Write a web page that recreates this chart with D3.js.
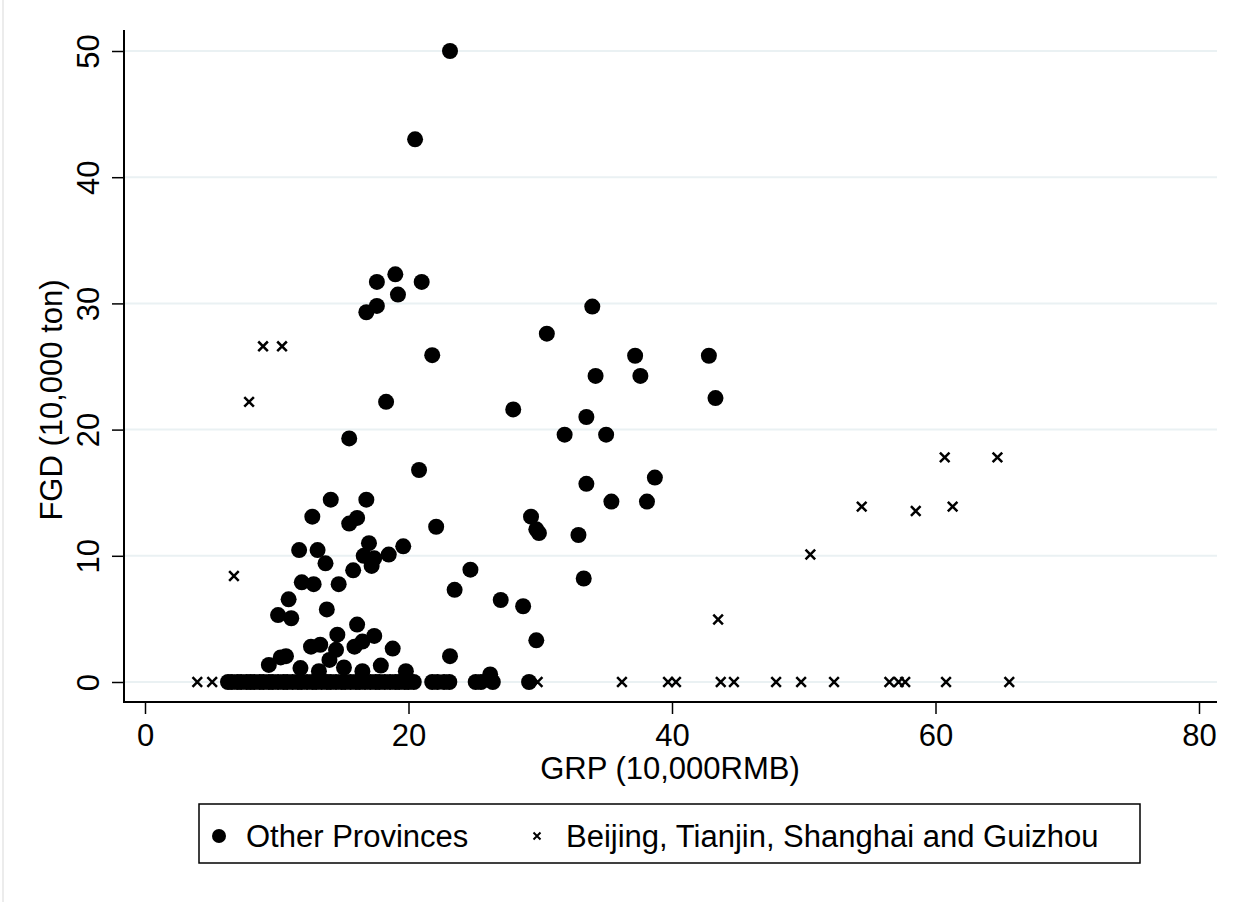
<!DOCTYPE html>
<html>
<head>
<meta charset="utf-8">
<script src="https://cdn.jsdelivr.net/npm/d3@7"></script>
<style>
  body { margin: 0; background: #fff; }
  svg { display: block; font-family: "Liberation Sans", Arial, Helvetica, sans-serif; }
</style>
</head>
<body>
<svg id="chart"></svg>
<script>
// Other Provinces (filled circles)
const otherX = [
  23.15, 20.5, 19.0, 17.6, 21.0, 19.2, 17.6, 16.8, 21.8, 18.3,
  15.5, 20.8, 14.1, 16.8, 12.7, 16.1, 15.5, 22.1, 11.7, 13.1,
  17.0, 19.6, 16.6, 17.4, 18.5, 17.2, 13.7, 15.8, 24.7, 11.9,
  12.8, 14.7, 10.9, 10.1, 11.1, 13.8, 16.1, 14.6, 17.4, 12.6,
  13.3, 10.7, 10.3, 14.5, 15.9, 16.5, 18.8, 14.0, 9.4, 11.8,
  13.2, 15.1, 16.5, 17.9, 19.8, 33.95, 30.5, 37.2, 42.8, 34.2,
  37.6, 43.3, 27.95, 33.5, 31.85, 35.0, 38.7, 33.5, 35.4, 38.1,
  29.3, 29.7, 29.9, 32.9, 33.3, 23.5, 27.0, 28.7, 29.7, 23.15,
  26.2,
  // zero row
  6.3, 6.6, 7.0, 7.3, 7.7, 8.0, 8.3, 8.7, 9.0, 9.4,
  9.7, 10.1, 10.5, 10.8, 11.2, 11.6, 11.9, 12.3, 12.7, 13.0,
  13.4, 13.8, 14.1, 14.5, 14.9, 15.2, 15.6, 16.0, 16.3, 16.7,
  17.1, 17.5, 17.8, 18.2, 18.6, 19.0, 19.3, 19.7, 20.0, 20.4,
  21.8, 22.2, 22.7, 23.1, 25.1, 25.5, 26.4, 29.15
];
const otherY = [
  50.0, 43.0, 32.3, 31.7, 31.7, 30.7, 29.8, 29.3, 25.9, 22.2,
  19.3, 16.8, 14.45, 14.45, 13.1, 13.0, 12.55, 12.3, 10.45, 10.45,
  11.0, 10.75, 10.0, 9.8, 10.1, 9.2, 9.4, 8.85, 8.9, 7.9,
  7.75, 7.75, 6.55, 5.3, 5.05, 5.75, 4.55, 3.75, 3.65, 2.8,
  2.95, 2.05, 1.95, 2.55, 2.8, 3.2, 2.65, 1.75, 1.35, 1.1,
  0.85, 1.15, 0.85, 1.3, 0.85, 29.75, 27.6, 25.85, 25.85, 24.25,
  24.25, 22.5, 21.6, 21.0, 19.6, 19.6, 16.2, 15.7, 14.3, 14.3,
  13.1, 12.1, 11.8, 11.65, 8.2, 7.3, 6.5, 6.0, 3.3, 2.05,
  0.6,
  0, 0, 0, 0, 0, 0, 0, 0, 0, 0,
  0, 0, 0, 0, 0, 0, 0, 0, 0, 0,
  0, 0, 0, 0, 0, 0, 0, 0, 0, 0,
  0, 0, 0, 0, 0, 0, 0, 0, 0, 0,
  0, 0, 0, 0, 0, 0, 0, 0
];

// Beijing, Tianjin, Shanghai and Guizhou (crosses)
const bjX = [
  3.97, 5.1, 8.96, 10.4, 7.9, 6.75, 29.8, 36.2, 39.7, 40.3,
  43.7, 44.7, 47.9, 49.8, 52.3, 56.5, 57.2, 57.7, 60.8, 65.6,
  43.5, 50.5, 54.4, 58.5, 61.3, 60.7, 64.7
];
const bjY = [
  0, 0, 26.6, 26.6, 22.2, 8.4, 0, 0, 0, 0,
  0, 0, 0, 0, 0, 0, 0, 0, 0, 0,
  4.95, 10.1, 13.9, 13.55, 13.9, 17.8, 17.8
];

const xTicks = [0, 20, 40, 60, 80];
const yTicks = [0, 10, 20, 30, 40, 50];
const legendLabels = ["Other Provinces", "Beijing, Tianjin, Shanghai and Guizhou"];

const width = 1247, height = 902;
const plot = { left: 124, right: 1217, top: 30, bottom: 702 };
const fontSize = 31;

const svg = d3.select("#chart")
    .attr("width", width)
    .attr("height", height);

svg.append("rect").attr("width", width).attr("height", height).attr("fill", "#fff");
// faint graph region edge on the left
svg.append("line")
    .attr("x1", 3).attr("x2", 3).attr("y1", 0).attr("y2", height)
    .attr("stroke", "#e6e6e6").attr("stroke-width", 1.5);

const x = d3.scaleLinear().domain([0, 80]).range([145, 1199]);
const y = d3.scaleLinear().domain([0, 50]).range([682, 51]);

// gridlines
svg.append("g")
    .selectAll("line")
    .data(yTicks)
    .enter()
    .append("line")
    .attr("x1", plot.left)
    .attr("x2", plot.right)
    .attr("y1", d => y(d))
    .attr("y2", d => y(d))
    .attr("stroke", "#eaf1f3")
    .attr("stroke-width", 2);

// axis lines
svg.append("line")
    .attr("x1", plot.left).attr("x2", plot.left)
    .attr("y1", plot.top).attr("y2", plot.bottom)
    .attr("stroke", "#000").attr("stroke-width", 2);
svg.append("line")
    .attr("x1", plot.left - 1).attr("x2", plot.right)
    .attr("y1", plot.bottom).attr("y2", plot.bottom)
    .attr("stroke", "#000").attr("stroke-width", 2);

// x axis
const xAxis = svg.append("g")
    .attr("transform", `translate(0,${plot.bottom})`)
    .call(d3.axisBottom(x).tickValues(xTicks).tickSize(12).tickPadding(10).tickFormat(d3.format("d")));
xAxis.select(".domain").remove();
xAxis.selectAll(".tick line").attr("stroke-width", 1.5);
xAxis.selectAll("text")
    .attr("fill", "#000")
    .style("font-size", fontSize + "px")
    .style("font-family", "'Liberation Sans', Arial, sans-serif");

// y axis
const yAxis = svg.append("g")
    .attr("transform", `translate(${plot.left},0)`)
    .call(d3.axisLeft(y).tickValues(yTicks).tickSize(12).tickFormat(d3.format("d")));
yAxis.select(".domain").remove();
yAxis.selectAll(".tick line").attr("stroke-width", 1.5);
yAxis.selectAll("text")
    .attr("x", 0)
    .attr("y", -25)
    .attr("dy", 0)
    .attr("transform", "rotate(-90)")
    .attr("text-anchor", "middle")
    .attr("fill", "#000")
    .style("font-size", fontSize + "px")
    .style("font-family", "'Liberation Sans', Arial, sans-serif");

// axis titles
svg.append("text")
    .attr("x", 670)
    .attr("y", 779)
    .attr("text-anchor", "middle")
    .style("font-size", fontSize + "px")
    .text("GRP (10,000RMB)");

svg.append("text")
    .attr("transform", "translate(62,400) rotate(-90)")
    .attr("text-anchor", "middle")
    .style("font-size", fontSize + "px")
    .text("FGD (10,000 ton)");

// markers
const otherData = otherX.map((v, i) => ({ x: v, y: otherY[i] }));
const bjData = bjX.map((v, i) => ({ x: v, y: bjY[i] }));

svg.append("g")
    .selectAll("circle")
    .data(otherData)
    .enter()
    .append("circle")
    .attr("cx", d => x(d.x))
    .attr("cy", d => y(d.y))
    .attr("r", 8)
    .attr("fill", "#000");

const crossPath = s => `M${-s},${-s}L${s},${s}M${-s},${s}L${s},${-s}`;

svg.append("g")
    .selectAll("path")
    .data(bjData)
    .enter()
    .append("path")
    .attr("transform", d => `translate(${x(d.x)},${y(d.y)})`)
    .attr("d", crossPath(4.8))
    .attr("stroke", "#000")
    .attr("stroke-width", 2.5)
    .attr("fill", "none");

// legend
const legend = svg.append("g");
legend.append("rect")
    .attr("x", 199).attr("y", 804)
    .attr("width", 941).attr("height", 59)
    .attr("fill", "#fff")
    .attr("stroke", "#000")
    .attr("stroke-width", 1.5);
legend.append("circle")
    .attr("cx", 219).attr("cy", 836)
    .attr("r", 7)
    .attr("fill", "#000");
legend.append("text")
    .attr("x", 246).attr("y", 847)
    .style("font-size", fontSize + "px")
    .text(legendLabels[0]);
legend.append("path")
    .attr("transform", "translate(537,836)")
    .attr("d", crossPath(3.5))
    .attr("stroke", "#000")
    .attr("stroke-width", 2)
    .attr("fill", "none");
legend.append("text")
    .attr("x", 566).attr("y", 847)
    .style("font-size", fontSize + "px")
    .text(legendLabels[1]);
</script>
</body>
</html>
